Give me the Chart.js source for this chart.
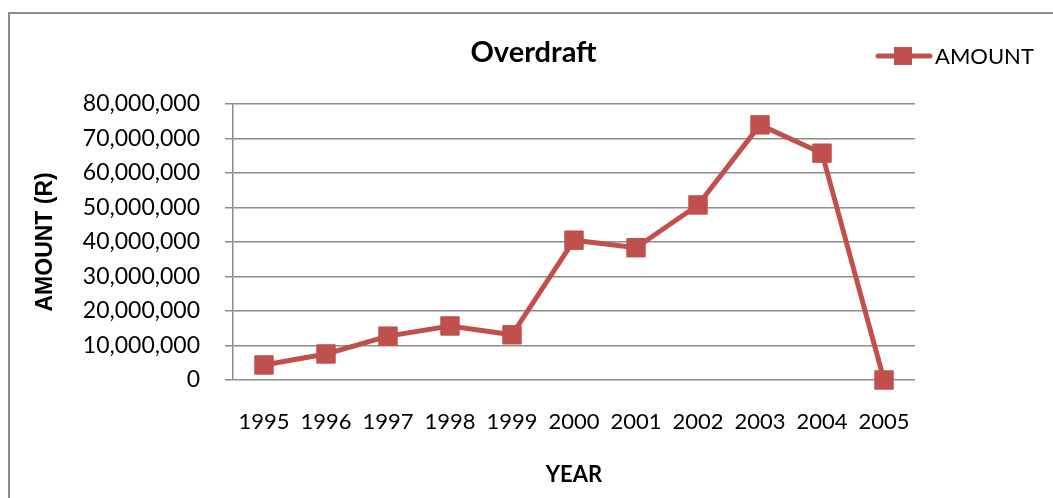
<!DOCTYPE html>
<html>
<head>
<meta charset="utf-8">
<script src="https://cdn.jsdelivr.net/npm/chart.js@4.4.1/dist/chart.umd.min.js"></script>
<style>
  html, body { margin: 0; padding: 0; background: #fff; }
  #wrap { position: relative; width: 1053px; height: 498px; overflow: hidden; }
  #frame { position: absolute; left: 8px; top: 12px; width: 1100px; height: 600px;
           border-left: 2px solid #8c8c8c; border-top: 2px solid #8c8c8c; box-sizing: border-box; }
  canvas { position: absolute; left: 0; top: 0; }
</style>
</head>
<body>
<div id="wrap">
  <div id="frame"></div>
  <canvas id="c" width="1053" height="498"></canvas>
</div>
<script>
// Overdraft amounts by year (Rand)
const years = ['1995', '1996', '1997', '1998', '1999', '2000', '2001', '2002', '2003', '2004', '2005'];
const amounts = [4350000, 7540000, 12700000, 15650000, 13100000, 40500000, 38300000, 50700000, 73900000, 65700000, 0];
const seriesName = 'AMOUNT';
const chartTitle = 'Overdraft';
const xTitle = 'YEAR';
const yTitle = 'AMOUNT (R)';
const yMin = 0, yMax = 80000000, yStep = 10000000;

const RED = '#C0504D';
const GRID = '#8c8c8c';
const FONT = 'Lato, "Open Sans", sans-serif';

// Legend drawn Excel-style: line with a square marker, then the series name
const lineLegend = {
  id: 'lineLegend',
  afterDraw(chart) {
    const ctx = chart.ctx;
    const ds = chart.data.datasets[0];
    const y = 56;
    ctx.save();
    ctx.strokeStyle = ds.borderColor;
    ctx.lineWidth = 5;
    ctx.lineCap = 'round';
    ctx.beginPath();
    ctx.moveTo(878, y);
    ctx.lineTo(930, y);
    ctx.stroke();
    ctx.fillStyle = ds.pointBackgroundColor;
    ctx.fillRect(894, y - 9, 18, 18);
    ctx.fillStyle = '#000';
    ctx.font = '22px ' + FONT;
    ctx.textBaseline = 'middle';
    ctx.textAlign = 'left';
    ctx.fillText(ds.label, 935, y + 1);
    ctx.restore();
  }
};

new Chart(document.getElementById('c'), {
  type: 'line',
  data: {
    labels: years,
    datasets: [{
      label: seriesName,
      data: amounts,
      borderColor: RED,
      backgroundColor: RED,
      borderWidth: 5,
      tension: 0,
      clip: false,
      pointStyle: 'rect',
      pointRadius: 13,
      pointHoverRadius: 13,
      pointBackgroundColor: RED,
      pointBorderColor: RED,
      pointBorderWidth: 1
    }]
  },
  options: {
    responsive: false,
    animation: false,
    devicePixelRatio: 1,
    layout: { padding: { left: 14, right: 0, top: 0, bottom: 0 } },
    plugins: {
      legend: { display: false },
      tooltip: { enabled: false },
      title: {
        display: true,
        text: chartTitle,
        color: '#000',
        font: { family: FONT, size: 29, weight: 'bold', lineHeight: 1.2 },
        padding: { top: 35, bottom: 34 }
      }
    },
    scales: {
      x: {
        offset: true,
        grid: { display: false, drawTicks: false },
        border: { display: false },
        ticks: { color: '#000', font: { family: FONT, size: 22 }, padding: 29, maxRotation: 0, autoSkip: false },
        title: { display: true, text: xTitle, color: '#000',
                 font: { family: FONT, size: 22, weight: 'bold', lineHeight: 1.2 }, padding: { top: 0, bottom: 10 } },
        afterFit(s) { s.height = 118; }
      },
      y: {
        min: yMin, max: yMax,
        grid: { color: GRID, lineWidth: 1.5, tickLength: 8, drawTicks: true, tickColor: GRID },
        border: { display: true, color: GRID, width: 1.5 },
        ticks: {
          stepSize: yStep, color: '#000', font: { family: FONT, size: 23 }, padding: 25,
          callback: v => Number(v).toLocaleString('en-US')
        },
        title: { display: true, text: yTitle, color: '#000',
                 font: { family: '"Liberation Sans", Arial, sans-serif', size: 23, weight: 'bold', lineHeight: 1.2 },
                 padding: { top: 18, bottom: 0 } },
        afterFit(s) { s.width = 219; }
      },
      y2: {
        position: 'right',
        display: true,
        grid: { display: false, drawTicks: false },
        border: { display: false },
        ticks: { display: false },
        afterFit(s) { s.width = 138; }
      }
    }
  },
  plugins: [lineLegend]
});
</script>
</body>
</html>
